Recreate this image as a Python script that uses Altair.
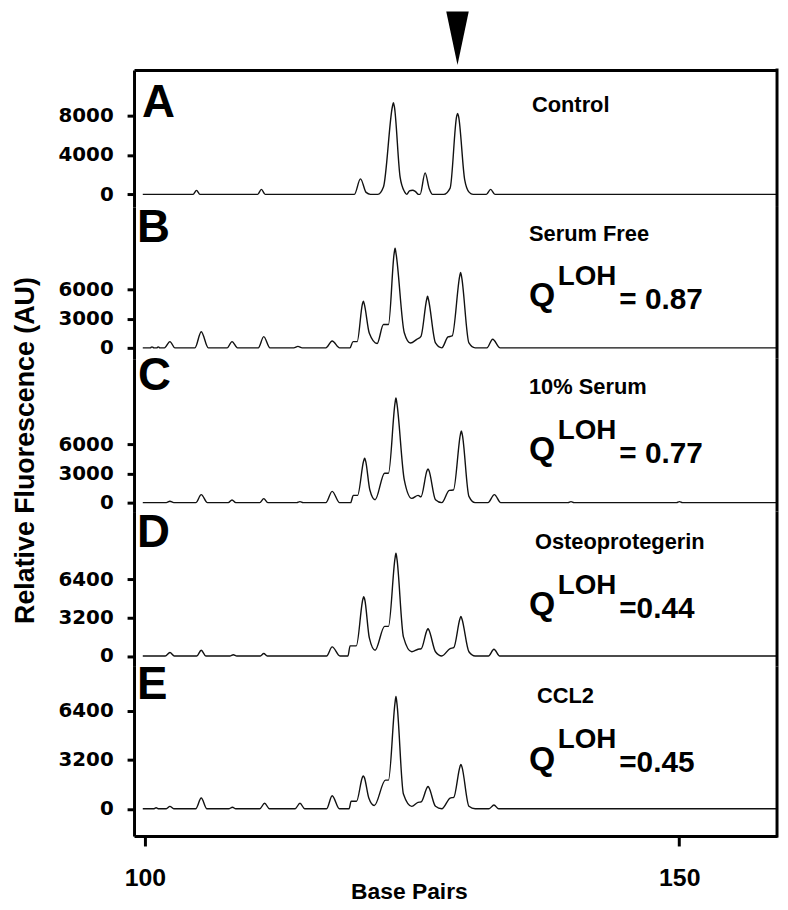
import altair as alt
import pandas as pd

# ---------------- data ----------------
X_DOMAIN = [98.98, 159.15]
X_TICKS = [100, 150]
ALLELE_BP = 129.25  # arrowhead position

A_TRACE = [(99.8, 0), (104.5, 0), (104.83, 400), (105.15, 0), (110.55, 0), (110.9, 500), (111.25, 0),
           (119.6, 0), (120.17, 1570), (120.7, 200), (121.1, 0), (121.8, 0), (122.32, 734),
           (123.16, 8900), (123.25, 9280), (123.34, 8900), (123.88, 1740), (124.3, 250), (124.5, 0),
           (124.75, 350), (125.05, 420), (125.3, 300), (125.6, 0), (125.75, 0), (126.22, 2170),
           (126.6, 600), (126.92, 0), (127.97, 0), (128.56, 630), (129.17, 7900), (129.26, 8200),
           (129.35, 7900), (129.92, 1500), (130.35, 200), (130.71, 0), (131.95, 0), (132.35, 500),
           (132.75, 0), (159.1, 0)]

B_TRACE = [(99.8, 0), (100.5, 0), (100.66, 100), (100.85, 0), (101.1, 0), (101.25, 100), (101.4, 0),
           (101.83, 0), (102.34, 645), (102.81, 0), (104.68, 0), (105.27, 1660), (105.93, 0),
           (107.69, 0), (108.15, 645), (108.66, 0), (110.61, 0), (111.12, 1150), (111.7, 0),
           (113.93, 0), (114.32, 150), (114.71, 0), (116.93, 0), (117.52, 710), (118.22, 0),
           (119.19, 0), (119.47, 645), (119.86, 645), (120.35, 4500), (120.44, 4800), (120.53, 4500),
           (121.0, 1500), (121.73, 450), (122.32, 2400), (122.79, 2400), (123.32, 9700),
           (123.41, 10240), (123.5, 9700), (124.27, 1560), (124.85, 500), (125.44, 880),
           (125.83, 1190), (126.37, 5000), (126.45, 5300), (126.53, 5000), (127.19, 500),
           (127.78, 0), (128.36, 1120), (128.75, 1220), (129.46, 7400), (129.54, 7760),
           (129.62, 7400), (130.32, 500), (130.9, 0), (132.0, 0), (132.54, 880), (133.24, 0),
           (159.1, 0)]

C_TRACE = [(99.8, 0), (102.0, 0), (102.34, 140), (102.7, 0), (104.76, 0), (105.27, 820), (105.85, 0),
           (107.8, 0), (108.15, 270), (108.5, 0), (110.75, 0), (111.12, 410), (111.5, 0),
           (114.2, 0), (114.51, 100), (114.8, 0), (116.93, 0), (117.52, 1160), (118.22, 0),
           (119.25, 0), (119.5, 750), (119.9, 750), (120.47, 4300), (120.56, 4560), (120.65, 4300),
           (121.05, 1300), (121.54, 300), (122.43, 3030), (122.79, 3030), (123.4, 10200),
           (123.49, 10780), (123.58, 10200), (124.27, 2350), (124.97, 440), (125.56, 750),
           (125.83, 600), (126.4, 3300), (126.49, 3470), (126.58, 3300), (127.19, 300),
           (127.78, 0), (128.48, 1260), (128.87, 1300), (129.52, 7000), (129.61, 7380),
           (129.7, 7000), (130.32, 645), (130.9, 0), (132.1, 0), (132.7, 820), (133.3, 0),
           (139.6, 0), (139.87, 100), (140.15, 0), (149.75, 0), (150.02, 100), (150.3, 0),
           (159.1, 0)]

D_TRACE = [(99.8, 0), (101.9, 0), (102.34, 290), (102.75, 0), (104.85, 0), (105.27, 480), (105.7, 0),
           (107.95, 0), (108.27, 100), (108.6, 0), (110.8, 0), (111.12, 200), (111.45, 0),
           (117.0, 0), (117.52, 760), (118.25, 0), (119.0, 0), (119.2, 840), (119.78, 840),
           (120.39, 4700), (120.48, 4940), (120.57, 4700), (121.0, 1500), (121.54, 480),
           (122.43, 2460), (122.79, 2460), (123.4, 8100), (123.49, 8550), (123.58, 8100),
           (124.19, 1590), (124.97, 350), (125.56, 560), (125.85, 600), (126.4, 2150),
           (126.49, 2270), (126.58, 2150), (127.19, 350), (127.78, 0), (128.56, 620),
           (128.9, 700), (129.48, 3100), (129.57, 3290), (129.66, 3100), (130.32, 350),
           (130.9, 0), (132.15, 0), (132.66, 560), (133.2, 0), (159.1, 0)]

E_TRACE = [(99.8, 0), (100.8, 0), (101.05, 65), (101.3, 0), (102.0, 0), (102.34, 160), (102.7, 0),
           (104.75, 0), (105.27, 700), (105.8, 0), (107.85, 0), (108.19, 100), (108.5, 0),
           (110.75, 0), (111.2, 360), (111.65, 0), (114.05, 0), (114.51, 360), (114.95, 0),
           (117.0, 0), (117.52, 850), (118.2, 0), (119.1, 0), (119.3, 490), (119.8, 490),
           (120.35, 2050), (120.44, 2150), (120.53, 2050), (120.95, 700), (121.46, 210),
           (122.51, 1870), (122.79, 1870), (123.4, 6900), (123.49, 7330), (123.58, 6900),
           (124.19, 960), (124.97, 160), (125.56, 420), (125.85, 450), (126.4, 1380),
           (126.49, 1460), (126.58, 1380), (127.19, 160), (127.78, 0), (128.56, 700),
           (128.9, 750), (129.48, 2750), (129.57, 2900), (129.66, 2750), (130.32, 160),
           (130.9, 0), (132.2, 0), (132.66, 250), (133.1, 0), (159.1, 0)]

LETTERS = ["A", "B", "C", "D", "E"]
CONDITIONS = ["Control", "Serum Free", "10% Serum", "Osteoprotegerin", "CCL2"]
Q_VALUES = [None, "= 0.87", "= 0.77", "=0.44", "=0.45"]
Y_TICKS = [[0, 4000, 8000], [0, 3000, 6000], [0, 3000, 6000], [0, 3200, 6400], [0, 3200, 6400]]
Y_DOMAINS = [[-1276, 12593], [-1122, 14490], [-918, 14796], [-867, 12015], [-1781, 9294]]
TRACES = [A_TRACE, B_TRACE, C_TRACE, D_TRACE, E_TRACE]

# ---------------- layout / style ----------------
W = 648
HEIGHTS = [138, 153, 154, 156, 171]
LETTER_POS = [(8, 47), (3, 35), (4, 31), (3, 36), (3, 33)]
COND_POS = [(401, 42), (398, 34), (398, 36), (404, 38), (406, 37)]
Q_OFFS = [None, (100, 79, 103), (102, 81, 105), (104, 83, 107), (104, 82, 106)]
SANS = "Liberation Sans"

one = pd.DataFrame({"k": [0]})


def txt(s, x, y, size, align="left"):
    return alt.Chart(one).mark_text(
        text=s, font=SANS, fontWeight="bold", fontSize=size, align=align,
        baseline="alphabetic", color="black"
    ).encode(x=alt.value(x), y=alt.value(y))


panels = []
for i in range(5):
    df = pd.DataFrame(TRACES[i], columns=["bp", "rfu"])
    H = HEIGHTS[i]
    if i == 0:
        xaxis = alt.Axis(orient="top", labels=False, ticks=False, domainWidth=3, domainColor="black",
                         title=None, grid=False)
    elif i == 4:
        xaxis = alt.Axis(values=X_TICKS, title="Base Pairs", domainWidth=3, domainColor="black",
                         tickWidth=3, tickSize=10, tickColor="black", labelFont=SANS,
                         labelFontWeight="bold", labelFontSize=25, labelColor="black",
                         labelPadding=20, labelFlush=False, titleFont=SANS, titleFontWeight="bold",
                         titleFontSize=23, titleColor="black", titleX=277, titleAlign="center",
                         titleY=63, titleBaseline="alphabetic", grid=False, format="d")
    else:
        xaxis = None
    yaxis_kw = dict(values=Y_TICKS[i], grid=False, domainWidth=3, domainColor="black", tickWidth=3,
                    tickSize=7, tickColor="black", labelFont="DejaVu Sans", labelFontWeight="bold",
                    labelFontSize=20, labelColor="black", labelPadding=14, labelOverlap=False,
                    format="d", labelFlush=False)
    if i == 2:
        yaxis_kw.update(title="Relative Fluorescence (AU)", titleFont=SANS, titleFontWeight="bold",
                        titleFontSize=27, titleColor="black", titleAngle=270, titleX=-109,
                        titleY=92, titleBaseline="middle", titleAlign="center")
    else:
        yaxis_kw.update(title=None)
    xenc = alt.X("bp:Q", scale=alt.Scale(domain=X_DOMAIN, nice=False, zero=False), axis=xaxis)
    yenc = alt.Y("rfu:Q", scale=alt.Scale(domain=Y_DOMAINS[i], nice=False, zero=False),
                 axis=alt.Axis(**yaxis_kw))
    layers = [alt.Chart(df).mark_line(color="#111111", strokeWidth=1.4, interpolate="monotone")
              .encode(x=xenc, y=yenc)]
    top = -1.5 if i == 0 else 0
    bot = H + 1.5 if i == 4 else H
    layers.append(alt.Chart(one).mark_rule(color="black", strokeWidth=3).encode(
        x=alt.value(W), y=alt.value(top), y2=alt.value(bot)))
    lx, ly = LETTER_POS[i]
    layers.append(txt(LETTERS[i], lx, ly, 46))
    cx, cy = COND_POS[i]
    layers.append(txt(CONDITIONS[i], cx, cy, 22))
    if Q_VALUES[i] is not None:
        qy, ly2, ry = Q_OFFS[i]
        layers.append(txt("Q", 398, qy, 34))
        layers.append(txt("LOH", 427, ly2, 28))
        layers.append(txt(Q_VALUES[i], 489, ry, 30))
    if i == 0:
        layers.append(alt.Chart(one).mark_point(
            shape="M-0.42,-1L0.42,-1L0,1Z", filled=True, color="black", size=2916, opacity=1
        ).encode(x=alt.datum(ALLELE_BP), y=alt.value(-32)))
    panels.append(alt.layer(*layers).properties(width=W, height=H))

chart = alt.vconcat(*panels, spacing=0, bounds="flush").properties(
    padding={"left": 3, "top": 0, "right": 0, "bottom": 0}
).configure_view(stroke=None)

chart.save("out.html", embed_options={"renderer": "svg", "actions": False})
